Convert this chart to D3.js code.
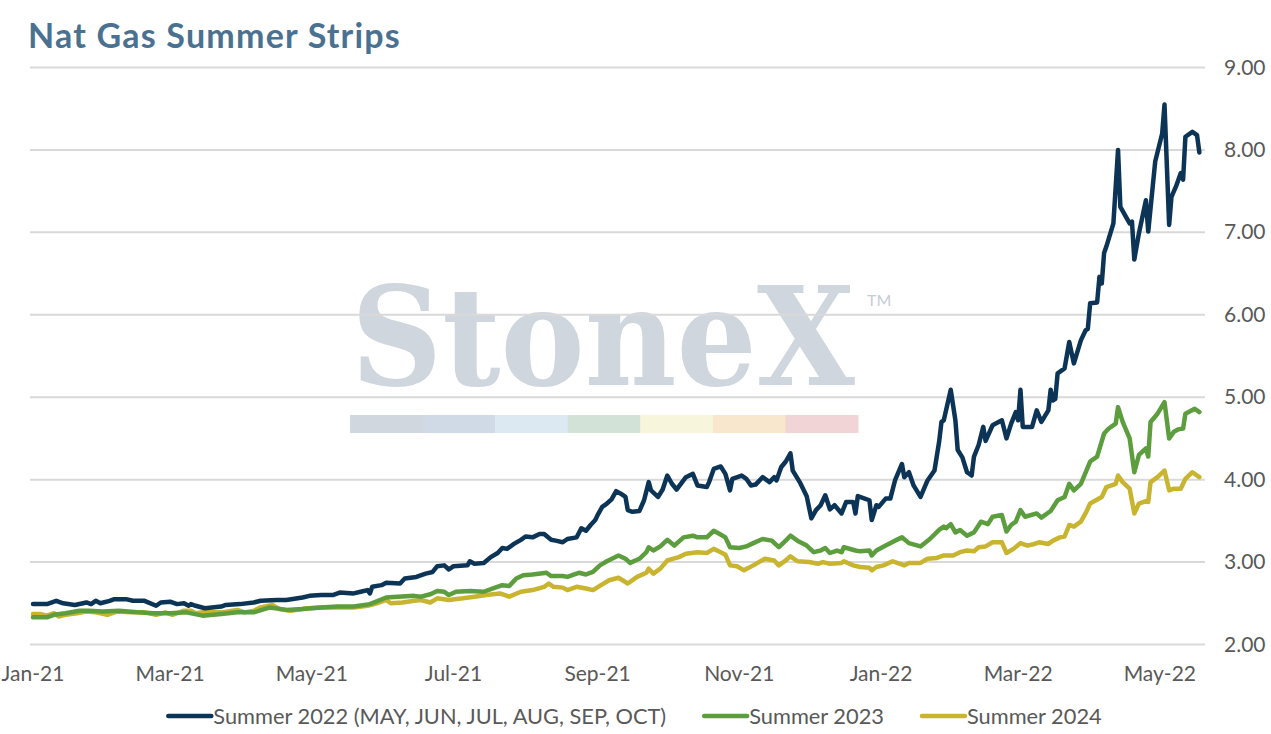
<!DOCTYPE html>
<html>
<head>
<meta charset="utf-8">
<script src="https://cdn.jsdelivr.net/npm/d3@7"></script>
<style>
  body { margin: 0; background: #fff; }
  svg { display: block; }
  text { font-family: Lato, "Open Sans", sans-serif; }
</style>
</head>
<body>
<div id="chart"></div>
<script>
var outerWidth = 1271, outerHeight = 734

var seriesNames = ["Summer 2022 (MAY, JUN, JUL, AUG, SEP, OCT)", "Summer 2023", "Summer 2024"]
var seriesColors = ["#0c3457", "#5c9e3d", "#c9b42f"]

var yTicks = [2, 3, 4, 5, 6, 7, 8, 9]
var xTickDates = ["2021-01-01", "2021-03-01", "2021-05-01", "2021-07-01", "2021-09-01",
                  "2021-11-01", "2022-01-01", "2022-03-01", "2022-05-01"]
var xTickLabels = ["Jan-21", "Mar-21", "May-21", "Jul-21", "Sep-21", "Nov-21", "Jan-22", "Mar-22", "May-22"]

var summer2022 = [
  ["2021-01-01",2.49],["2021-01-07",2.49],["2021-01-11",2.53],["2021-01-14",2.50],["2021-01-19",2.48],
  ["2021-01-24",2.51],["2021-01-26",2.49],["2021-01-28",2.53],["2021-01-30",2.50],["2021-02-03",2.53],
  ["2021-02-05",2.55],["2021-02-10",2.55],["2021-02-13",2.53],["2021-02-18",2.53],["2021-02-23",2.47],
  ["2021-02-25",2.51],["2021-03-01",2.52],["2021-03-04",2.49],["2021-03-07",2.50],["2021-03-09",2.47],
  ["2021-03-10",2.49],["2021-03-12",2.47],["2021-03-16",2.44],["2021-03-23",2.46],["2021-03-25",2.48],
  ["2021-03-31",2.49],["2021-04-06",2.51],["2021-04-09",2.53],["2021-04-16",2.54],["2021-04-20",2.54],
  ["2021-04-27",2.57],["2021-04-30",2.59],["2021-05-05",2.60],["2021-05-10",2.60],["2021-05-13",2.63],
  ["2021-05-19",2.62],["2021-05-22",2.64],["2021-05-25",2.66],["2021-05-26",2.62],["2021-05-27",2.70],
  ["2021-05-31",2.72],["2021-06-02",2.75],["2021-06-08",2.74],["2021-06-10",2.80],["2021-06-15",2.82],
  ["2021-06-19",2.86],["2021-06-22",2.88],["2021-06-24",2.95],["2021-06-27",2.96],["2021-06-29",2.91],
  ["2021-07-01",2.95],["2021-07-07",2.96],["2021-07-08",3.01],["2021-07-10",2.98],["2021-07-14",2.99],
  ["2021-07-17",3.06],["2021-07-20",3.11],["2021-07-22",3.17],["2021-07-24",3.16],["2021-07-27",3.22],
  ["2021-07-30",3.27],["2021-08-01",3.31],["2021-08-04",3.30],["2021-08-07",3.34],["2021-08-09",3.34],
  ["2021-08-12",3.27],["2021-08-14",3.26],["2021-08-17",3.24],["2021-08-19",3.28],["2021-08-23",3.30],
  ["2021-08-25",3.41],["2021-08-27",3.38],["2021-08-29",3.45],["2021-08-31",3.51],["2021-09-01",3.57],
  ["2021-09-03",3.67],["2021-09-05",3.71],["2021-09-07",3.76],["2021-09-09",3.86],["2021-09-11",3.83],
  ["2021-09-13",3.79],["2021-09-14",3.63],["2021-09-16",3.61],["2021-09-19",3.62],["2021-09-21",3.75],
  ["2021-09-23",3.97],["2021-09-24",3.87],["2021-09-27",3.79],["2021-09-29",3.88],["2021-10-01",4.05],
  ["2021-10-03",3.95],["2021-10-05",3.88],["2021-10-09",4.03],["2021-10-12",4.07],["2021-10-14",3.93],
  ["2021-10-18",3.91],["2021-10-19",3.97],["2021-10-21",4.13],["2021-10-24",4.16],["2021-10-26",4.07],
  ["2021-10-28",3.87],["2021-10-29",4.01],["2021-11-02",4.05],["2021-11-04",4.01],["2021-11-06",3.93],
  ["2021-11-08",3.94],["2021-11-11",4.03],["2021-11-14",3.97],["2021-11-16",4.03],["2021-11-17",3.99],
  ["2021-11-19",4.15],["2021-11-21",4.22],["2021-11-23",4.32],["2021-11-24",4.11],["2021-11-27",3.97],
  ["2021-11-30",3.80],["2021-12-02",3.53],["2021-12-04",3.63],["2021-12-06",3.69],["2021-12-08",3.81],
  ["2021-12-10",3.64],["2021-12-12",3.69],["2021-12-15",3.59],["2021-12-17",3.73],["2021-12-20",3.73],
  ["2021-12-21",3.59],["2021-12-22",3.80],["2021-12-25",3.77],["2021-12-27",3.75],["2021-12-28",3.51],
  ["2021-12-30",3.69],["2021-12-31",3.67],["2022-01-03",3.77],["2022-01-05",3.77],["2022-01-07",3.99],
  ["2022-01-10",4.19],["2022-01-11",4.03],["2022-01-13",4.09],["2022-01-15",3.93],["2022-01-18",3.79],
  ["2022-01-21",3.99],["2022-01-24",4.11],["2022-01-26",4.46],["2022-01-27",4.70],["2022-01-28",4.72],
  ["2022-01-31",5.09],["2022-02-02",4.72],["2022-02-03",4.36],["2022-02-05",4.27],["2022-02-07",4.09],
  ["2022-02-09",4.05],["2022-02-10",4.28],["2022-02-12",4.42],["2022-02-14",4.64],["2022-02-15",4.47],
  ["2022-02-18",4.66],["2022-02-22",4.72],["2022-02-24",4.50],["2022-02-26",4.68],["2022-02-28",4.82],
  ["2022-03-01",4.72],["2022-03-02",5.09],["2022-03-03",4.64],["2022-03-07",4.64],["2022-03-09",4.84],
  ["2022-03-11",4.70],["2022-03-14",4.84],["2022-03-15",5.09],["2022-03-16",4.96],["2022-03-17",4.98],
  ["2022-03-18",5.29],["2022-03-21",5.35],["2022-03-23",5.67],["2022-03-25",5.41],["2022-03-28",5.69],
  ["2022-03-30",5.81],["2022-03-31",5.83],["2022-04-01",6.14],["2022-04-04",6.15],["2022-04-05",6.46],
  ["2022-04-06",6.38],["2022-04-07",6.75],["2022-04-08",6.83],["2022-04-11",7.11],["2022-04-13",8.00],
  ["2022-04-14",7.31],["2022-04-18",7.11],["2022-04-19",7.13],["2022-04-20",6.67],["2022-04-22",6.99],
  ["2022-04-25",7.39],["2022-04-26",7.01],["2022-04-29",7.86],["2022-05-02",8.20],["2022-05-03",8.55],
  ["2022-05-05",7.09],["2022-05-06",7.43],["2022-05-08",7.56],["2022-05-10",7.72],["2022-05-11",7.64],
  ["2022-05-12",8.16],["2022-05-15",8.22],["2022-05-17",8.18],["2022-05-18",7.97]
]

var summer2023 = [
  ["2021-01-01",2.33],["2021-01-07",2.33],["2021-01-10",2.36],["2021-01-15",2.38],["2021-01-21",2.41],
  ["2021-01-25",2.41],["2021-01-31",2.40],["2021-02-07",2.41],["2021-02-15",2.39],["2021-02-22",2.38],
  ["2021-03-01",2.38],["2021-03-08",2.39],["2021-03-15",2.35],["2021-03-23",2.37],["2021-03-30",2.39],
  ["2021-04-06",2.39],["2021-04-13",2.45],["2021-04-20",2.42],["2021-04-27",2.43],["2021-05-05",2.45],
  ["2021-05-12",2.46],["2021-05-19",2.46],["2021-05-26",2.49],["2021-06-02",2.57],["2021-06-07",2.58],
  ["2021-06-14",2.59],["2021-06-17",2.58],["2021-06-21",2.61],["2021-06-24",2.65],["2021-06-27",2.64],
  ["2021-06-29",2.60],["2021-07-02",2.64],["2021-07-08",2.65],["2021-07-14",2.64],["2021-07-18",2.68],
  ["2021-07-22",2.72],["2021-07-25",2.71],["2021-07-28",2.80],["2021-07-31",2.84],["2021-08-04",2.85],
  ["2021-08-10",2.87],["2021-08-12",2.83],["2021-08-17",2.83],["2021-08-19",2.82],["2021-08-22",2.85],
  ["2021-08-24",2.87],["2021-08-27",2.85],["2021-08-30",2.88],["2021-09-02",2.96],["2021-09-05",3.01],
  ["2021-09-10",3.08],["2021-09-13",3.04],["2021-09-15",2.99],["2021-09-19",3.04],["2021-09-22",3.12],
  ["2021-09-23",3.18],["2021-09-25",3.14],["2021-09-28",3.19],["2021-10-01",3.27],["2021-10-04",3.20],
  ["2021-10-08",3.30],["2021-10-12",3.32],["2021-10-14",3.30],["2021-10-18",3.30],["2021-10-21",3.38],
  ["2021-10-23",3.35],["2021-10-26",3.30],["2021-10-28",3.18],["2021-11-01",3.17],["2021-11-04",3.19],
  ["2021-11-07",3.23],["2021-11-11",3.28],["2021-11-15",3.26],["2021-11-18",3.18],["2021-11-21",3.26],
  ["2021-11-23",3.32],["2021-11-26",3.26],["2021-11-30",3.20],["2021-12-03",3.12],["2021-12-06",3.14],
  ["2021-12-08",3.17],["2021-12-10",3.11],["2021-12-13",3.14],["2021-12-15",3.12],["2021-12-16",3.18],
  ["2021-12-21",3.14],["2021-12-23",3.13],["2021-12-27",3.14],["2021-12-28",3.08],["2021-12-30",3.14],
  ["2022-01-03",3.20],["2022-01-07",3.26],["2022-01-10",3.30],["2022-01-13",3.23],["2022-01-18",3.19],
  ["2022-01-22",3.28],["2022-01-26",3.39],["2022-01-28",3.43],["2022-01-29",3.41],["2022-01-31",3.46],
  ["2022-02-02",3.36],["2022-02-04",3.39],["2022-02-07",3.32],["2022-02-10",3.36],["2022-02-13",3.49],
  ["2022-02-16",3.46],["2022-02-18",3.55],["2022-02-22",3.57],["2022-02-24",3.37],["2022-02-26",3.45],
  ["2022-02-28",3.49],["2022-03-02",3.63],["2022-03-04",3.55],["2022-03-09",3.59],["2022-03-11",3.54],
  ["2022-03-15",3.62],["2022-03-18",3.75],["2022-03-21",3.79],["2022-03-23",3.95],["2022-03-25",3.87],
  ["2022-03-28",3.95],["2022-04-01",4.22],["2022-04-04",4.28],["2022-04-07",4.56],["2022-04-09",4.62],
  ["2022-04-12",4.68],["2022-04-13",4.88],["2022-04-15",4.70],["2022-04-18",4.50],["2022-04-20",4.09],
  ["2022-04-22",4.30],["2022-04-25",4.38],["2022-04-26",4.28],["2022-04-27",4.70],["2022-04-30",4.80],
  ["2022-05-03",4.94],["2022-05-05",4.50],["2022-05-07",4.58],["2022-05-09",4.61],["2022-05-11",4.62],
  ["2022-05-12",4.80],["2022-05-16",4.86],["2022-05-18",4.82]
]

var summer2024 = [
  ["2021-01-01",2.37],["2021-01-04",2.37],["2021-01-07",2.35],["2021-01-10",2.38],["2021-01-12",2.34],
  ["2021-01-15",2.36],["2021-01-20",2.38],["2021-01-24",2.40],["2021-01-28",2.39],["2021-02-02",2.36],
  ["2021-02-06",2.40],["2021-02-12",2.39],["2021-02-18",2.39],["2021-02-23",2.36],["2021-02-27",2.39],
  ["2021-03-02",2.36],["2021-03-07",2.41],["2021-03-10",2.41],["2021-03-12",2.38],["2021-03-15",2.39],
  ["2021-03-23",2.39],["2021-03-30",2.42],["2021-04-02",2.39],["2021-04-06",2.41],["2021-04-09",2.45],
  ["2021-04-14",2.48],["2021-04-17",2.43],["2021-04-22",2.41],["2021-04-29",2.44],["2021-05-05",2.45],
  ["2021-05-12",2.45],["2021-05-19",2.45],["2021-05-25",2.47],["2021-05-29",2.50],["2021-06-02",2.54],
  ["2021-06-04",2.50],["2021-06-09",2.51],["2021-06-14",2.53],["2021-06-17",2.54],["2021-06-21",2.51],
  ["2021-06-24",2.56],["2021-06-29",2.54],["2021-07-05",2.56],["2021-07-10",2.58],["2021-07-15",2.60],
  ["2021-07-21",2.62],["2021-07-25",2.58],["2021-07-30",2.64],["2021-08-04",2.66],["2021-08-09",2.70],
  ["2021-08-11",2.74],["2021-08-13",2.70],["2021-08-17",2.69],["2021-08-19",2.66],["2021-08-23",2.70],
  ["2021-08-27",2.68],["2021-08-30",2.66],["2021-09-03",2.73],["2021-09-06",2.78],["2021-09-10",2.81],
  ["2021-09-14",2.74],["2021-09-18",2.82],["2021-09-22",2.87],["2021-09-23",2.92],["2021-09-25",2.86],
  ["2021-09-28",2.92],["2021-10-01",3.02],["2021-10-06",3.06],["2021-10-09",3.10],["2021-10-14",3.12],
  ["2021-10-18",3.11],["2021-10-21",3.16],["2021-10-24",3.12],["2021-10-26",3.09],["2021-10-28",2.96],
  ["2021-10-31",2.95],["2021-11-03",2.90],["2021-11-07",2.96],["2021-11-12",3.04],["2021-11-16",3.02],
  ["2021-11-18",2.96],["2021-11-21",3.02],["2021-11-23",3.07],["2021-11-26",3.01],["2021-12-01",3.00],
  ["2021-12-05",2.98],["2021-12-07",3.00],["2021-12-10",2.98],["2021-12-15",2.99],["2021-12-16",3.01],
  ["2021-12-20",2.96],["2021-12-23",2.94],["2021-12-27",2.93],["2021-12-28",2.90],["2021-12-30",2.94],
  ["2022-01-02",2.96],["2022-01-06",3.01],["2022-01-11",2.96],["2022-01-13",2.99],["2022-01-18",2.99],
  ["2022-01-21",3.04],["2022-01-25",3.05],["2022-01-28",3.08],["2022-02-01",3.08],["2022-02-04",3.12],
  ["2022-02-07",3.14],["2022-02-10",3.13],["2022-02-12",3.18],["2022-02-15",3.19],["2022-02-18",3.24],
  ["2022-02-22",3.24],["2022-02-24",3.11],["2022-02-27",3.16],["2022-03-02",3.23],["2022-03-05",3.20],
  ["2022-03-08",3.22],["2022-03-10",3.24],["2022-03-14",3.22],["2022-03-16",3.26],["2022-03-19",3.30],
  ["2022-03-21",3.31],["2022-03-23",3.45],["2022-03-25",3.43],["2022-03-28",3.49],["2022-03-30",3.59],
  ["2022-04-01",3.71],["2022-04-06",3.79],["2022-04-08",3.91],["2022-04-12",3.95],["2022-04-13",4.05],
  ["2022-04-15",3.97],["2022-04-18",3.89],["2022-04-20",3.59],["2022-04-22",3.71],["2022-04-25",3.74],
  ["2022-04-26",3.73],["2022-04-27",3.97],["2022-04-30",4.03],["2022-05-03",4.11],["2022-05-05",3.87],
  ["2022-05-07",3.89],["2022-05-10",3.89],["2022-05-12",4.01],["2022-05-15",4.09],["2022-05-18",4.03]
]

// watermark pieces
var watermarkBar = ["#d1d7df", "#cfdae6", "#dce9f3", "#d3e2d6", "#f8f5dd", "#f8e6cd", "#f1d4d5"]

var parseDate = d3.timeParse("%Y-%m-%d")
var allSeries = [summer2022, summer2023, summer2024].map(function(s) {
    return s.map(function(d) { return { date: parseDate(d[0]), value: d[1] } })
})

var svg = d3.select("#chart").append("svg")
    .attr("width", outerWidth)
    .attr("height", outerHeight)

var xScale = d3.scaleTime()
    .domain([parseDate("2021-01-01"), parseDate("2022-05-20")])
    .range([33, 1204])
var yScale = d3.scaleLinear().domain([2, 9]).range([644.5, 67.5])

var gridLeft = 30, gridRight = 1205

// title
svg.append("text")
    .attr("x", 28)
    .attr("y", 48)
    .attr("fill", "#4a7190")
    .attr("font-size", "34px")
    .attr("font-weight", "bold")
    .attr("letter-spacing", "1.2px")
    .text("Nat Gas Summer Strips")

// watermark: squeeze the word to the logo width with a transform
var wm = svg.append("g").attr("class", "watermark")
var wmWord = wm.append("g")
var wmText = wmWord.append("text")
    .attr("x", 0)
    .attr("y", 0)
    .style("font-family", "'DejaVu Serif', 'Liberation Serif', serif")
    .style("font-weight", "bold")
    .attr("font-size", "136px")
    .attr("fill", "#cfd6de")
    .text("StoneX")
var wmNatural = wmText.node().getComputedTextLength()
wmWord.attr("transform", "translate(351,385) scale(" + (504 / wmNatural) + ",1)")
wm.append("text")
    .attr("x", 867)
    .attr("y", 306)
    .attr("font-size", "16px")
    .attr("fill", "#c6cdd6")
    .text("TM")
var barX = d3.scaleBand().domain(d3.range(watermarkBar.length)).range([350, 858])
wm.selectAll("rect")
    .data(watermarkBar)
    .enter()
    .append("rect")
    .attr("x", function(d, i) { return barX(i) })
    .attr("y", 415)
    .attr("width", barX.bandwidth() + 0.5)
    .attr("height", 18)
    .attr("fill", function(d) { return d })

// gridlines + y labels
var yAxis = svg.append("g")
yAxis.selectAll("line")
    .data(yTicks)
    .enter()
    .append("line")
    .attr("x1", gridLeft)
    .attr("x2", gridRight)
    .attr("y1", function(d) { return yScale(d) })
    .attr("y2", function(d) { return yScale(d) })
    .style("stroke", "#d9d9d9")
    .style("stroke-width", 2)
yAxis.selectAll("text")
    .data(yTicks)
    .enter()
    .append("text")
    .attr("x", 1224)
    .attr("y", function(d) { return yScale(d) + 7 })
    .attr("fill", "#595959")
    .attr("font-size", "21px")
    .text(function(d) { return d3.format(".2f")(d) })

// x labels
svg.append("g").selectAll("text")
    .data(xTickDates)
    .enter()
    .append("text")
    .attr("x", function(d) { return xScale(parseDate(d)) })
    .attr("y", 681)
    .attr("text-anchor", "middle")
    .attr("fill", "#595959")
    .attr("font-size", "21px")
    .text(function(d, i) { return xTickLabels[i] })

// series lines
var line = d3.line()
    .x(function(d) { return xScale(d.date) })
    .y(function(d) { return yScale(d.value) })

var plotInner = svg.append("g")
// draw in reverse so the 2022 strip sits on top
for (var i = allSeries.length - 1; i >= 0; i--) {
    plotInner.append("path")
        .datum(allSeries[i])
        .attr("d", line)
        .attr("fill", "none")
        .style("stroke", seriesColors[i])
        .style("stroke-width", 4.5)
        .style("stroke-linejoin", "round")
        .style("stroke-linecap", "round")
}

// legend, centred under the chart
var legend = svg.append("g")
var xPos = 0
seriesNames.forEach(function(name, i) {
    var g = legend.append("g")
    g.append("line")
        .attr("x1", 0).attr("x2", 43)
        .attr("y1", 0).attr("y2", 0)
        .style("stroke", seriesColors[i])
        .style("stroke-width", 4.5)
        .style("stroke-linecap", "round")
    var t = g.append("text")
        .attr("x", 45)
        .attr("y", 7.5)
        .attr("fill", "#595959")
        .attr("font-size", "21.8px")
        .text(name)
    var w = 45 + t.node().getComputedTextLength()
    g.attr("transform", "translate(" + xPos + ",0)")
    xPos += w + 38
})
var legendWidth = xPos - 38
legend.attr("transform", "translate(" + (635 - legendWidth / 2) + ",716)")
</script>
</body>
</html>
